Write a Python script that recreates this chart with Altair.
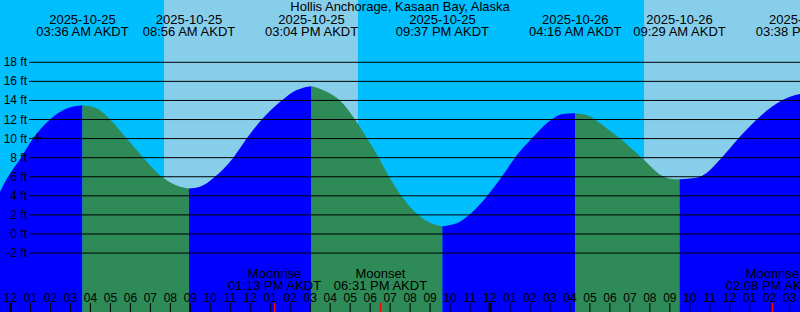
import altair as alt
import pandas as pd

FONT = "Liberation Sans"

# ---- scale geometry (hours after 2025-10-25 00:00 AKDT, feet) ----
PX_PER_HR = 19.98
X_ORIGIN_PX = 10.5
X_MIN = -X_ORIGIN_PX / PX_PER_HR
X_MAX = (800 - X_ORIGIN_PX) / PX_PER_HR
Y_MIN = -8.18
Y_MAX = 24.53

title_text = "Hollis Anchorage, Kasaan Bay, Alaska"

# ---- tide curve (hours, feet), one list per rising/falling run ----
seg0_hours = [-0.526, -0.125, 0.526, 1.126, 1.977, 2.813, 3.6]
seg0_ft = [4.43, 6.0, 8.0, 10.0, 12.0, 13.15, 13.5]
seg1_hours = [3.6, 4.314, 4.98, 5.816, 6.647, 7.568, 8.483, 8.933]
seg1_ft = [13.5, 13.17, 12.0, 10.0, 8.0, 6.0, 4.96, 4.77]
seg2_hours = [8.933, 9.485, 10.235, 11.151, 11.822, 12.573, 13.574, 14.324, 15.067]
seg2_ft = [4.77, 4.96, 6.0, 8.0, 10.0, 12.0, 14.0, 15.09, 15.5]
seg3_hours = [15.067, 15.826, 16.492, 17.243, 17.85, 18.43, 18.95, 19.56, 20.41, 20.996, 21.331, 21.617]
seg3_ft = [15.5, 14.92, 14.0, 12.0, 10.0, 8.0, 6.0, 4.0, 2.0, 1.19, 0.94, 0.8]
seg4_hours = [21.617, 22.162, 22.497, 22.998, 23.864, 24.585, 25.25, 26.086, 27.087, 27.588, 28.267]
seg4_ft = [0.8, 1.02, 1.29, 2.06, 4.0, 6.0, 8.0, 10.0, 12.0, 12.55, 12.65]
seg5_hours = [28.267, 29.0, 29.505, 30.506, 31.592, 32.7, 33.008, 33.483]
seg5_ft = [12.65, 12.35, 11.6, 10.0, 8.0, 6.0, 5.8, 5.73]
seg6_hours = [33.483, 34.0, 34.509, 35.595, 36.426, 37.347, 38.599, 39.515, 39.633]
seg6_ft = [5.73, 5.82, 6.0, 8.0, 10.0, 12.0, 14.0, 14.68, 14.72]
segment_direction = ["rising", "falling", "rising", "falling", "rising", "falling", "rising"]

# ---- high / low tide events ----
event_hours = [3.6, 8.933, 15.067, 21.617, 28.267, 33.483, 39.633]
event_dates = ["2025-10-25", "2025-10-25", "2025-10-25", "2025-10-25",
               "2025-10-26", "2025-10-26", "2025-10-26"]
event_times = ["03:36 AM AKDT", "08:56 AM AKDT", "03:04 PM AKDT", "09:37 PM AKDT",
               "04:16 AM AKDT", "09:29 AM AKDT", "03:38 PM AKDT"]

# ---- daylight periods ----
day_start = [7.683, 31.71]
day_end = [17.39, 41.0]

# ---- moon events ----
moon_hours = [13.217, 18.517, 38.133]
moon_kind = ["Moonrise", "Moonset", "Moonrise"]
moon_times = ["01:13 PM AKDT", "06:31 PM AKDT", "02:08 PM AKDT"]

# ---- axes ----
ft_levels = [-2, 0, 2, 4, 6, 8, 10, 12, 14, 16, 18]
ft_labels = [f"{v} ft" for v in ft_levels]
hour_ticks = list(range(0, 40))
hour_labels = [f"{(h % 12) or 12:02d}" for h in hour_ticks]
midnight_ticks = [0, 24]

now_hour = [1.341]
now_ft = [10.06]

# ---- tables ----
segs = [(seg0_hours, seg0_ft), (seg1_hours, seg1_ft), (seg2_hours, seg2_ft),
        (seg3_hours, seg3_ft), (seg4_hours, seg4_ft), (seg5_hours, seg5_ft),
        (seg6_hours, seg6_ft)]
rows = []
for i, (hs, fs) in enumerate(segs):
    for h, f in zip(hs, fs):
        rows.append({"seg": i, "hour": h, "ft": f, "dir": segment_direction[i]})
tide_df = pd.DataFrame(rows)
event_df = pd.DataFrame({"hour": event_hours, "date": event_dates, "time": event_times})
day_df = pd.DataFrame({"start": day_start, "end": day_end})
moon_df = pd.DataFrame({"hour": moon_hours, "kind": moon_kind, "time": moon_times})
grid_df = pd.DataFrame({"ft": ft_levels, "label": ft_labels})
hour_df = pd.DataFrame({"hour": hour_ticks, "label": hour_labels})
midnight_df = pd.DataFrame({"hour": midnight_ticks})
now_df = pd.DataFrame({"hour": now_hour, "ft": now_ft})

xs = alt.Scale(domain=[X_MIN, X_MAX], nice=False, zero=False)
ys = alt.Scale(domain=[Y_MIN, Y_MAX], nice=False, zero=False)

def X(field):
    return alt.X(field, type="quantitative", scale=xs, axis=None)

def Y(field):
    return alt.Y(field, type="quantitative", scale=ys, axis=None, stack=None)

day = alt.Chart(day_df).mark_rect(color="#87CEEB", clip=True).encode(
    x=X("start"), x2="end", y=alt.value(0), y2=alt.value(312)
)

tide = alt.Chart(tide_df).mark_area(interpolate="monotone", clip=True, opacity=1).encode(
    x=X("hour"),
    y=Y("ft"),
    y2=alt.value(312),
    color=alt.Color("dir:N", scale=alt.Scale(domain=["rising", "falling"],
                                             range=["#0000FF", "#2E8B57"]), legend=None),
    detail="seg:N",
)

grid = alt.Chart(grid_df).mark_rule(color="black", strokeWidth=1).encode(
    y=Y("ft"), x=alt.value(29), x2=alt.value(800)
)

grid_labels = alt.Chart(grid_df).mark_text(
    align="right", baseline="middle", font=FONT, fontSize=12, color="black"
).encode(y=Y("ft"), x=alt.value(27), text="label:N")

TXT = dict(align="center", baseline="alphabetic", font=FONT, fontSize=13, color="black", clip=True)

title = alt.Chart(pd.DataFrame({"t": [title_text]})).mark_text(**TXT).encode(
    x=alt.value(400), y=alt.value(11), text="t:N")

ev_date = alt.Chart(event_df).mark_text(**TXT).encode(
    x=X("hour"), y=alt.value(24), text="date:N")

ev_time = alt.Chart(event_df).mark_text(**TXT).encode(
    x=X("hour"), y=alt.value(36), text="time:N")

moon_kind_t = alt.Chart(moon_df).mark_text(**TXT).encode(
    x=X("hour"), y=alt.value(278), text="kind:N")

moon_time_t = alt.Chart(moon_df).mark_text(**TXT).encode(
    x=X("hour"), y=alt.value(290), text="time:N")

hour_text = alt.Chart(hour_df).mark_text(
    align="center", baseline="alphabetic", font=FONT, fontSize=12, color="black", clip=True
).encode(x=X("hour"), y=alt.value(301.5), text="label:N")

hour_tick = alt.Chart(hour_df).mark_rule(color="black", strokeWidth=1).encode(
    x=X("hour"), y=alt.value(303), y2=alt.value(312)
)

midnight_tick = alt.Chart(midnight_df).mark_rule(color="black", strokeWidth=3).encode(
    x=X("hour"), y=alt.value(303), y2=alt.value(312)
)

moon_tick = alt.Chart(moon_df).mark_rule(color="#FF0000", strokeWidth=1.5).encode(
    x=X("hour"), y=alt.value(303), y2=alt.value(312)
)

now_mark = alt.Chart(now_df).mark_point(
    shape="M-1,0H1M0,-1V1", size=81, filled=False, color="black", strokeWidth=1.5, opacity=1
).encode(x=X("hour"), y=Y("ft"))

chart = alt.layer(
    day, tide, grid, grid_labels, title, ev_date, ev_time,
    moon_kind_t, moon_time_t, hour_text, hour_tick, midnight_tick, moon_tick, now_mark
).properties(
    width=800, height=312,
    autosize=alt.AutoSizeParams(type="none"),
    padding=0,
    background="#00BFFF",
).configure_view(stroke=None)

chart.save("out.html", embed_options={"renderer": "svg", "actions": False})
